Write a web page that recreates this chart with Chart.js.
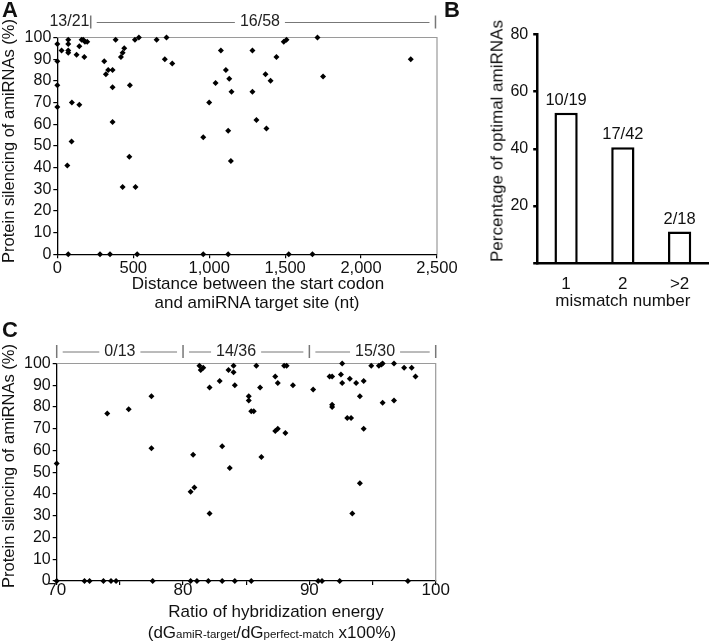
<!DOCTYPE html>
<html>
<head>
<meta charset="utf-8">
<script src="https://cdn.jsdelivr.net/npm/chart.js@4.4.1/dist/chart.umd.min.js"></script>
<style>
  body { margin: 0; background: #fff; font-family: "Liberation Sans", Arial, sans-serif; color: #111; }
  #wrap { position: relative; width: 711px; height: 641px; overflow: hidden; }
  canvas { position: absolute; }
  .cap { position: absolute; white-space: nowrap; font-size: 17px; line-height: 1; transform: translate(-50%, -50%); }
  .rot { transform: translate(-50%, -50%) rotate(-90deg); }
  .letter { position: absolute; font-weight: bold; font-size: 22px; line-height: 1; transform: translate(-50%, -50%); }
  .cap small { font-size: 11.5px; }
</style>
</head>
<body>
<div id="wrap">
  <canvas id="chartA" width="470" height="290" style="left:0;top:0"></canvas>
  <canvas id="chartB" width="271" height="312" style="left:440px;top:0"></canvas>
  <canvas id="chartC" width="470" height="301" style="left:0;top:320px"></canvas>

  <div class="letter" style="left:10px;top:10px">A</div>
  <div class="letter" style="left:452px;top:10px">B</div>
  <div class="letter" style="left:10px;top:330px">C</div>

  <div class="cap rot" style="left:8px;top:141px;font-size:16.5px">Protein silencing of amiRNAs (%)</div>
  <div class="cap" style="left:258px;top:283px">Distance between the start codon</div>
  <div class="cap" style="left:257px;top:302px">and amiRNA target site (nt)</div>

  <div class="cap rot" style="left:497px;top:141px">Percentage of optimal amiRNAs</div>

  <div class="cap rot" style="left:8px;top:466px;font-size:16.5px">Protein silencing of amiRNAs (%)</div>
  <div class="cap" style="left:276px;top:611px">Ratio of hybridization energy</div>
  <div class="cap" style="left:272px;top:632px">(dG<small>amiR-target</small>/dG<small>perfect-match</small> x100%)</div>
</div>

<script>
// panel A: distance from start codon (nt) vs protein silencing (%)
const aDistance = [0, 0, 0, 0, 28, 72, 72, 72, 72, 72, 66, 96, 94, 127, 145, 145, 160, 171, 182, 197, 178,
  309, 320, 335, 364, 364, 364, 384, 419, 430, 441, 430, 478, 474, 511, 515, 537, 654, 719, 708, 757, 281, 347, 526,
  1077, 1110, 1042, 1132, 1147, 1000, 961, 1125, 1143, 1285, 1285, 1311, 1371, 1404, 1377, 1443, 1491, 1509, 1713, 1750, 2327,
  961, 1125, 1524, 1680];
const aSilencing = [97, 89, 78, 68, 94, 99, 97, 94, 93, 0, 41, 70, 52, 92, 69, 96, 99, 99, 98, 98, 91,
  89, 83, 85, 85, 77, 61, 99, 91, 93, 95, 31, 78, 45, 99, 31, 100, 99, 100, 90, 88, 0, 0, 0,
  94, 85, 79, 81, 75, 70, 54, 57, 43, 94, 75, 62, 83, 80, 58, 91, 98, 99, 100, 82, 90,
  0, 0, 0, 0];
const aGroupEdges = [-60, 220, 2490];
const aGroupLabels = ['13/21', '16/58'];

// panel B: optimal amiRNAs per mismatch number
const mismatchLabels = ['1', '2', '>2'];
const optimalPct = [52.6, 40.5, 11.1];
const optimalCounts = ['10/19', '17/42', '2/18'];

// panel C: hybridization energy ratio vs protein silencing (%)
const cRatio = [70, 74.0, 75.7, 77.5, 77.5, 70, 72.2, 72.6, 73.7, 74.3, 74.7, 77.6,
  81.3, 81.4, 81.6, 82.1, 82.9, 83.6, 84.0, 84.0, 84.1, 85.2, 85.2, 85.4, 85.6, 85.8, 86.1, 87.3, 87.5, 88.1,
  87.3, 87.5, 88.0, 88.2, 88.7, 80.8, 80.6, 80.9, 82.1, 83.1, 83.7, 86.2,
  80.6, 81.1, 82.0, 83.1, 84.1, 85.4,
  90.3, 91.6, 91.8, 92.6, 92.5, 92.6, 93.2, 93.7, 94.3, 94.0, 91.8, 91.8, 93.0, 93.3, 94.3, 94.0, 93.4,
  94.9, 95.5, 95.7, 95.8, 96.7, 95.8, 96.7, 97.5, 98.1, 98.4,
  90.7, 91.0, 92.4, 97.8];
const cSilencing = [54, 77, 79, 85, 61, 0, 0, 0, 0, 0, 0, 0,
  99, 97, 98, 89, 92, 97, 99, 96, 90, 85, 83, 78, 78, 99, 89, 69, 70, 68,
  94, 91, 99, 99, 90, 58, 41, 43, 31, 62, 52, 57,
  0, 0, 0, 0, 0, 0,
  88, 94, 94, 100, 95, 91, 93, 91, 92, 85, 81, 80, 75, 75, 70, 45, 31,
  99, 99, 99.5, 100, 100, 82, 83, 98, 98, 94,
  0, 0, 0, 0];
const cGroupEdges = [70, 80, 90, 100];
const cGroupLabels = ['0/13', '14/36', '15/30'];

const FONT = '"Liberation Sans", Arial, sans-serif';
Chart.defaults.font.family = FONT;
Chart.defaults.color = '#111';

// gray top and right border of the plot box
const frame = {
  id: 'frame',
  beforeDatasetsDraw(chart, args, opts) {
    if (!opts.color) return;
    const { ctx, chartArea: a } = chart;
    ctx.save();
    ctx.strokeStyle = opts.color;
    ctx.lineWidth = 1.2;
    ctx.beginPath();
    ctx.moveTo(a.left, a.top);
    ctx.lineTo(a.right, a.top);
    ctx.lineTo(a.right, a.bottom);
    ctx.stroke();
    ctx.restore();
  }
};

// group brackets with counts above the plot
const brackets = {
  id: 'brackets',
  afterDraw(chart, args, o) {
    if (!o.edges) return;
    const { ctx, chartArea } = chart;
    const x = chart.scales.x;
    const y = chartArea.top - o.rise;
    ctx.save();
    ctx.font = '16px ' + FONT;
    ctx.textAlign = 'center';
    ctx.textBaseline = 'middle';
    ctx.fillStyle = '#222';
    ctx.strokeStyle = '#777';
    const px = o.edges.map(v => x.getPixelForValue(v));
    const seg = (a, b) => {
      if (b - a < 2) return;
      ctx.beginPath();
      ctx.moveTo(a, y + 0.5);
      ctx.lineTo(b, y + 0.5);
      ctx.stroke();
    };
    ctx.lineWidth = 1.5;
    o.edges.forEach((v, i) => {
      if (v < x.min || v > x.max) return;
      ctx.beginPath();
      ctx.moveTo(px[i], y - 6.5);
      ctx.lineTo(px[i], y + 6.5);
      ctx.stroke();
    });
    ctx.lineWidth = 1;
    o.labels.forEach((t, i) => {
      const cx = x.getPixelForValue(o.labelAt[i]);
      const hw = ctx.measureText(t).width / 2;
      ctx.fillText(t, cx, y);
      seg(px[i] + 6, cx - hw - 5);
      seg(cx + hw + 5, px[i + 1] - 6);
    });
    ctx.restore();
  }
};

// count labels on top of bars
const barText = {
  id: 'barText',
  afterDatasetsDraw(chart, args, o) {
    if (!o.labels) return;
    const { ctx } = chart;
    ctx.save();
    ctx.font = '16.5px ' + FONT;
    ctx.textAlign = 'center';
    ctx.textBaseline = 'middle';
    ctx.fillStyle = '#111';
    chart.getDatasetMeta(0).data.forEach((bar, i) => {
      ctx.fillText(o.labels[i], bar.x, bar.y - 12.5);
    });
    ctx.restore();
  }
};

function fixSize(prop, size) {
  return s => {
    s[prop] = size;
    s.paddingLeft = 0; s.paddingRight = 0; s.paddingTop = 0; s.paddingBottom = 0;
  };
}

function points(xs, ys) {
  return xs.map((x, i) => ({ x: x, y: ys[i] }));
}

function silencingAxis(width) {
  return {
    min: 0, max: 100,
    afterFit: fixSize('width', width),
    border: { color: '#000', width: 1.3 },
    grid: { drawOnChartArea: false, tickLength: 4, color: '#000', lineWidth: 1.2 },
    ticks: { stepSize: 10, autoSkip: false, padding: 2, font: { size: 16 } }
  };
}

// A
new Chart(document.getElementById('chartA'), {
  type: 'scatter',
  data: {
    datasets: [{
      data: points(aDistance, aSilencing),
      pointStyle: 'rectRot', pointRadius: 3, backgroundColor: '#000', borderWidth: 0, clip: false
    }]
  },
  options: {
    responsive: false, animation: false, events: [],
    layout: { padding: { top: 37.5, right: 33, left: 0, bottom: 0 } },
    plugins: {
      legend: { display: false }, tooltip: { enabled: false },
      frame: { color: '#9a9a9a' },
      brackets: { edges: aGroupEdges, labels: aGroupLabels, labelAt: [80, 1334], rise: 15.5 }
    },
    scales: {
      x: {
        type: 'linear', min: 0, max: 2500,
        afterFit: fixSize('height', 290 - 254.3),
        border: { color: '#000', width: 1.3 },
        grid: { drawOnChartArea: false, tickLength: 4, color: '#000', lineWidth: 1.2 },
        ticks: { stepSize: 500, padding: 0, maxRotation: 0, font: { size: 16.5 },
          callback: v => v.toLocaleString('en-US') }
      },
      y: silencingAxis(57.3)
    }
  },
  plugins: [frame, brackets]
});

// B
new Chart(document.getElementById('chartB'), {
  type: 'bar',
  data: {
    labels: mismatchLabels,
    datasets: [{
      data: optimalPct,
      backgroundColor: '#fff', borderColor: '#000', borderWidth: 2.5,
      barPercentage: 0.41, categoryPercentage: 1
    }]
  },
  options: {
    responsive: false, animation: false, events: [],
    layout: { padding: { top: 34.3, right: 3, left: 47.4, bottom: 0 } },
    plugins: {
      legend: { display: false }, tooltip: { enabled: false },
      barText: { labels: optimalCounts }
    },
    scales: {
      x: {
        afterFit: fixSize('height', 312 - 263.3),
        border: { color: '#000', width: 2.5 },
        grid: { display: false, drawTicks: false },
        ticks: { padding: 11, font: { size: 17 } },
        title: { display: true, text: 'mismatch number', padding: 0, font: { size: 17 } }
      },
      y: {
        min: 0, max: 80,
        afterFit: fixSize('width', 50.3),
        border: { color: '#000', width: 2.5 },
        grid: { drawOnChartArea: false, tickLength: 4.5, color: '#000', lineWidth: 2.5 },
        ticks: { stepSize: 20, padding: 5, font: { size: 16 }, callback: v => v === 0 ? '' : v }
      }
    }
  },
  plugins: [barText]
});

// C
new Chart(document.getElementById('chartC'), {
  type: 'scatter',
  data: {
    datasets: [{
      data: points(cRatio, cSilencing),
      pointStyle: 'rectRot', pointRadius: 3, backgroundColor: '#000', borderWidth: 0, clip: false
    }]
  },
  options: {
    responsive: false, animation: false, events: [],
    layout: { padding: { top: 43.5, right: 34.3, left: 0, bottom: 0 } },
    plugins: {
      legend: { display: false }, tooltip: { enabled: false },
      frame: { color: '#9a9a9a' },
      brackets: { edges: cGroupEdges, labels: cGroupLabels, labelAt: [75, 84.2, 95.2], rise: 12 }
    },
    scales: {
      x: {
        type: 'linear', min: 70, max: 100,
        afterFit: fixSize('height', 301 - 261),
        border: { color: '#000', width: 1.3 },
        grid: { drawOnChartArea: false, tickLength: 4, color: '#000', lineWidth: 1.2 },
        ticks: { stepSize: 5, padding: -5, maxRotation: 0, autoSkip: false, font: { size: 17 },
          callback: v => v % 10 === 0 ? v : '' }
      },
      y: silencingAxis(56.7)
    }
  },
  plugins: [frame, brackets]
});
</script>
</body>
</html>
